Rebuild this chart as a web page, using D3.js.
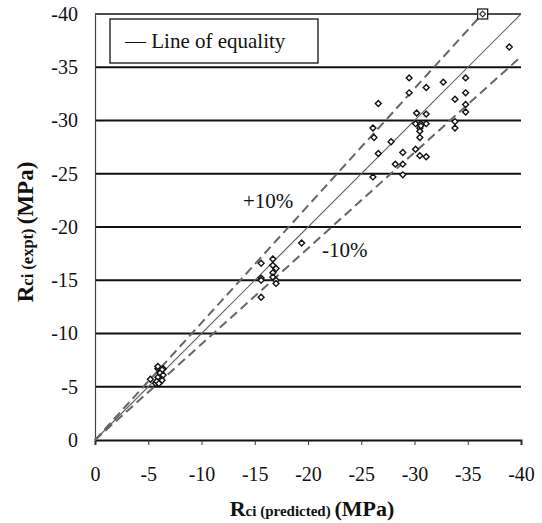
<!DOCTYPE html>
<html>
<head>
<meta charset="utf-8">
<script src="https://cdn.jsdelivr.net/npm/d3@7"></script>
<style>
  body { margin: 0; background: #fff; }
</style>
</head>
<body>
<script>
// values are negative stresses (MPa)
var predicted = [-29.5,-31.1,-32.7,-34.8,-29.5,-26.6,-34.8,-33.8,-34.8,-34.8,-30.2,-31.1,-26.1,
  -30.1,-30.6,-31.1,-30.5,-30.5,-30.6,-33.8,-33.8,-26.2,-27.8,-30.5,-26.6,-28.9,-30.1,-30.5,
  -31.1,-28.2,-28.9,-26.1,-28.9,-38.9,
  -19.4,-16.7,-15.6,-16.7,-17.0,-16.7,-15.6,-15.6,-16.7,-17.0,-17.0,-15.6,
  -5.2,-5.9,-6.4,-6.1,-5.7,-5.9,-6.3,-6.1,-6.4,-5.9,-5.8,-6.3,-6.0];
var expt = [-34.0,-33.1,-33.6,-34.0,-32.6,-31.6,-32.6,-32.0,-31.5,-30.8,-30.7,-30.6,-29.3,
  -29.7,-29.7,-29.7,-29.3,-29.0,-29.5,-29.9,-29.3,-28.4,-28.0,-28.4,-26.9,-27.0,-27.3,-26.7,
  -26.6,-25.9,-25.9,-24.7,-24.9,-36.9,
  -18.5,-17.0,-16.6,-16.4,-16.1,-15.7,-15.2,-15.0,-15.3,-15.0,-14.7,-13.4,
  -5.7,-6.7,-6.7,-5.9,-5.3,-6.9,-6.6,-6.3,-6.1,-5.9,-5.5,-5.6,-5.3];
var boxPoint = [-36.4, -40];
var tickValues = [0,-5,-10,-15,-20,-25,-30,-35,-40];
var bandFactors = [1.1, 0.9];
var bandLabels = ["+10%", "-10%"];
var legendText = "\u2014 Line of equality";

var W = 542, H = 523;
var serif = "Liberation Serif";
var x = d3.scaleLinear().domain([0, -40]).range([95, 521]);
var y = d3.scaleLinear().domain([0, -40]).range([440, 14]);
var fmt = function(d) { return String(d); }; // plain hyphen, like the original

var svg = d3.select("body").append("svg").attr("width", W).attr("height", H)
  .attr("font-family", serif);

// horizontal grid lines
svg.append("g").selectAll("line")
  .data(tickValues.slice(1))
  .enter().append("line")
    .attr("x1", x(0)).attr("x2", x(-40))
    .attr("y1", function(d) { return y(d); }).attr("y2", function(d) { return y(d); })
    .attr("stroke", "#111")
    .attr("stroke-width", function(d) { return d === -40 ? 1.4 : 1.9; });

// x axis
var xAxis = svg.append("g").attr("transform", "translate(0," + y(0) + ")")
  .call(d3.axisBottom(x).tickValues(tickValues).tickSize(5).tickPadding(22).tickFormat(fmt));
xAxis.attr("font-family", serif).attr("font-size", 20);
xAxis.select(".domain").attr("stroke", "#111").attr("stroke-width", 1.9);
xAxis.selectAll(".tick line").attr("stroke", "#333");
xAxis.selectAll("text").attr("fill", "#111").attr("font-family", serif);

// y axis
var yAxis = svg.append("g").attr("transform", "translate(" + x(0) + ",0)")
  .call(d3.axisLeft(y).tickValues(tickValues).tickSize(0).tickPadding(17).tickFormat(fmt));
yAxis.attr("font-family", serif).attr("font-size", 20);
yAxis.select(".domain").attr("stroke", "#444").attr("stroke-width", 1.2);
yAxis.selectAll("text").attr("fill", "#111").attr("font-family", serif);

// line of equality
svg.append("line")
  .attr("x1", x(0)).attr("y1", y(0)).attr("x2", x(-40)).attr("y2", y(-40))
  .attr("stroke", "#666").attr("stroke-width", 1.2);

// +/-10% lines
bandFactors.forEach(function(f) {
  var xe = f > 1 ? -40 / f : -40;
  svg.append("line")
    .attr("x1", x(0)).attr("y1", y(0)).attr("x2", x(xe)).attr("y2", y(xe * f))
    .attr("stroke", "#666").attr("stroke-width", 2)
    .attr("stroke-dasharray", "9,5");
});

svg.append("text").attr("x", 243).attr("y", 208).attr("font-size", 21)
  .attr("font-family", serif).attr("fill", "#111").text(bandLabels[0]);
svg.append("text").attr("x", 322).attr("y", 257).attr("font-size", 21)
  .attr("font-family", serif).attr("fill", "#111").text(bandLabels[1]);

// points
var diamond = d3.symbol().type(d3.symbolDiamond2).size(22);
svg.append("g").selectAll("path")
  .data(d3.range(predicted.length))
  .enter().append("path")
    .attr("d", diamond)
    .attr("transform", function(i) { return "translate(" + x(predicted[i]) + "," + y(expt[i]) + ")"; })
    .attr("fill", "#fff").attr("stroke", "#111").attr("stroke-width", 1.4);

svg.append("rect")
  .attr("x", x(boxPoint[0]) - 5).attr("y", y(boxPoint[1]) - 5)
  .attr("width", 10).attr("height", 10)
  .attr("fill", "#fff").attr("stroke", "#222").attr("stroke-width", 1.3);
svg.append("path")
  .attr("d", diamond)
  .attr("transform", "translate(" + x(boxPoint[0]) + "," + y(boxPoint[1]) + ")")
  .attr("fill", "none").attr("stroke", "#333").attr("stroke-width", 1.2);

// legend
svg.append("rect")
  .attr("x", 110).attr("y", 19).attr("width", 208).attr("height", 44)
  .attr("fill", "#fff").attr("stroke", "#111").attr("stroke-width", 1.3);
svg.append("text").attr("x", 125).attr("y", 48).attr("font-size", 21)
  .attr("font-family", serif).attr("fill", "#111").text(legendText);

// axis titles
var xt = svg.append("text")
  .attr("x", 312).attr("y", 516)
  .attr("text-anchor", "middle").attr("font-weight", "bold")
  .attr("font-family", serif).attr("fill", "#111");
xt.append("tspan").attr("font-size", 22).text("R");
xt.append("tspan").attr("font-size", 15).text("ci (predicted) ");
xt.append("tspan").attr("font-size", 22).text("(MPa)");

var yt = svg.append("text")
  .attr("transform", "translate(33,232)rotate(-90)")
  .attr("text-anchor", "middle").attr("font-weight", "bold")
  .attr("font-family", serif).attr("fill", "#111");
yt.append("tspan").attr("font-size", 23).text("R");
yt.append("tspan").attr("font-size", 16.5).text("ci (expt) ");
yt.append("tspan").attr("font-size", 23).text("(MPa)");
</script>
</body>
</html>
